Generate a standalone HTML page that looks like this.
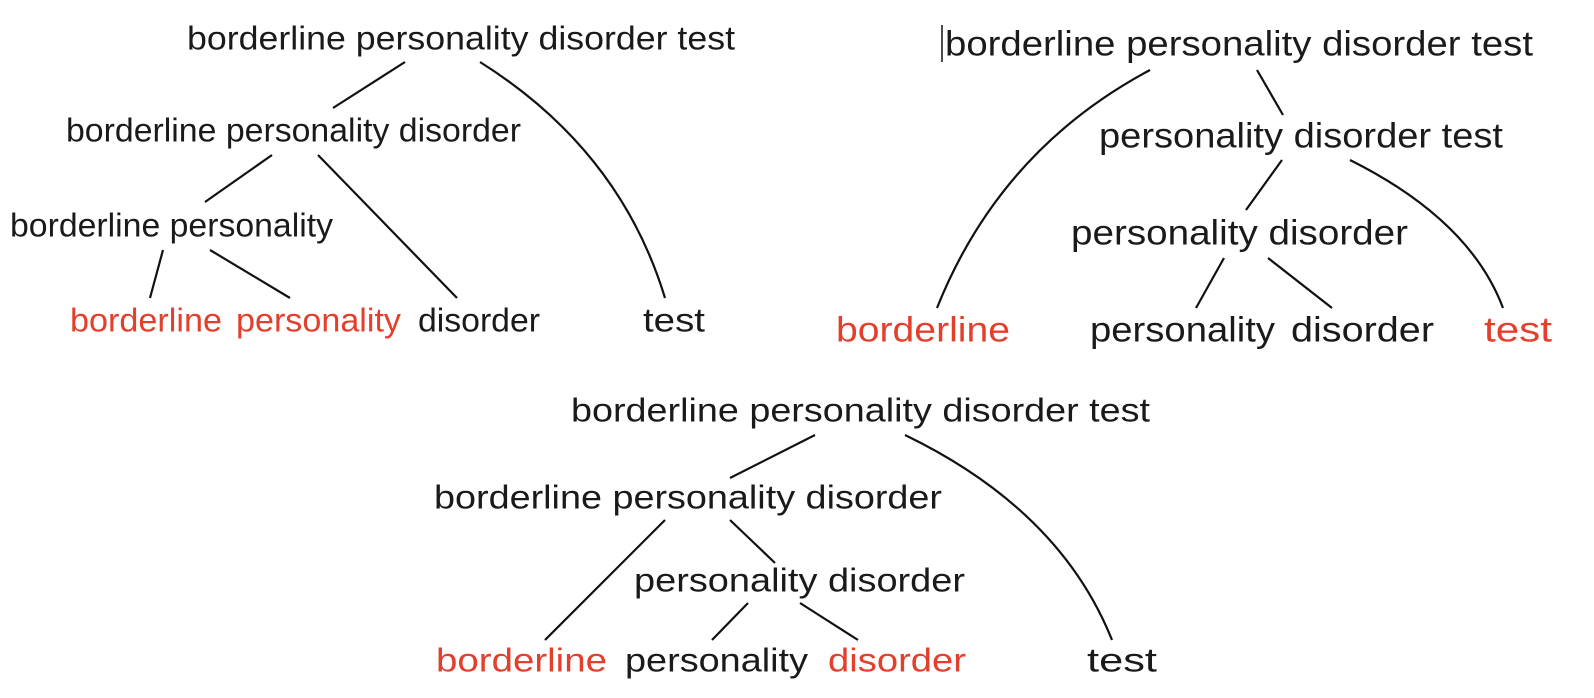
<!DOCTYPE html>
<html><head><meta charset="utf-8"><style>
html,body{margin:0;padding:0;background:#fff;}
svg{display:block;}
text{font-family:"Liberation Sans","DejaVu Sans",sans-serif;dominant-baseline:central;}
.k{fill:#1a1a1a;}
.r{fill:#e2402d;}
line,path{stroke:#111;stroke-width:2.2;fill:none;}
</style></head><body>
<svg width="1594" height="698" viewBox="0 0 1594 698">
<g>
<text class="k" x="187" y="38" font-size="33" textLength="548" lengthAdjust="spacingAndGlyphs">borderline personality disorder test</text>
<text class="k" x="66" y="130" font-size="33" textLength="455" lengthAdjust="spacingAndGlyphs">borderline personality disorder</text>
<text class="k" x="10" y="225" font-size="33" textLength="323" lengthAdjust="spacingAndGlyphs">borderline personality</text>
<text class="r" x="70" y="320" font-size="33" textLength="152" lengthAdjust="spacingAndGlyphs">borderline</text>
<text class="r" x="236" y="320" font-size="33" textLength="165" lengthAdjust="spacingAndGlyphs">personality</text>
<text class="k" x="418" y="320" font-size="33" textLength="122" lengthAdjust="spacingAndGlyphs">disorder</text>
<text class="k" x="643" y="320" font-size="33" textLength="62" lengthAdjust="spacingAndGlyphs">test</text>
<line x1="405" y1="62" x2="333" y2="108"/>
<path d="M480,62 Q620,150 665,298"/>
<line x1="272" y1="155" x2="205" y2="202"/>
<line x1="318" y1="155" x2="457" y2="298"/>
<line x1="163" y1="250" x2="150" y2="298"/>
<line x1="210" y1="250" x2="290" y2="298"/>
</g>
<g>
<line x1="942" y1="25" x2="942" y2="62" style="stroke-width:1.5"/>
<text class="k" x="945" y="44" font-size="35" textLength="588" lengthAdjust="spacingAndGlyphs">borderline personality disorder test</text>
<text class="k" x="1099" y="136" font-size="35" textLength="404" lengthAdjust="spacingAndGlyphs">personality disorder test</text>
<text class="k" x="1071" y="233" font-size="35" textLength="337" lengthAdjust="spacingAndGlyphs">personality disorder</text>
<text class="r" x="836" y="330" font-size="35" textLength="174" lengthAdjust="spacingAndGlyphs">borderline</text>
<text class="k" x="1090" y="330" font-size="35" textLength="185" lengthAdjust="spacingAndGlyphs">personality</text>
<text class="k" x="1291" y="330" font-size="35" textLength="143" lengthAdjust="spacingAndGlyphs">disorder</text>
<text class="r" x="1484" y="330" font-size="35" textLength="68" lengthAdjust="spacingAndGlyphs">test</text>
<path d="M1150,70 Q1000,150 937,308"/>
<line x1="1257" y1="70" x2="1283" y2="115"/>
<line x1="1282" y1="160" x2="1246" y2="210"/>
<path d="M1350,160 Q1470,220 1503,308"/>
<line x1="1224" y1="258" x2="1196" y2="308"/>
<line x1="1268" y1="258" x2="1332" y2="308"/>
</g>
<g>
<text class="k" x="571" y="410" font-size="33" textLength="579" lengthAdjust="spacingAndGlyphs">borderline personality disorder test</text>
<text class="k" x="434" y="497" font-size="33" textLength="508" lengthAdjust="spacingAndGlyphs">borderline personality disorder</text>
<text class="k" x="634" y="580" font-size="33" textLength="331" lengthAdjust="spacingAndGlyphs">personality disorder</text>
<text class="r" x="436" y="660" font-size="33" textLength="171" lengthAdjust="spacingAndGlyphs">borderline</text>
<text class="k" x="625" y="660" font-size="33" textLength="183" lengthAdjust="spacingAndGlyphs">personality</text>
<text class="r" x="828" y="660" font-size="33" textLength="138" lengthAdjust="spacingAndGlyphs">disorder</text>
<text class="k" x="1087" y="660" font-size="33" textLength="70" lengthAdjust="spacingAndGlyphs">test</text>
<line x1="815" y1="435" x2="730" y2="478"/>
<path d="M905,435 Q1060,510 1112,640"/>
<line x1="665" y1="520" x2="545" y2="640"/>
<line x1="730" y1="520" x2="775" y2="563"/>
<line x1="748" y1="603" x2="712" y2="640"/>
<line x1="800" y1="603" x2="858" y2="640"/>
</g>
</svg>
</body></html>
